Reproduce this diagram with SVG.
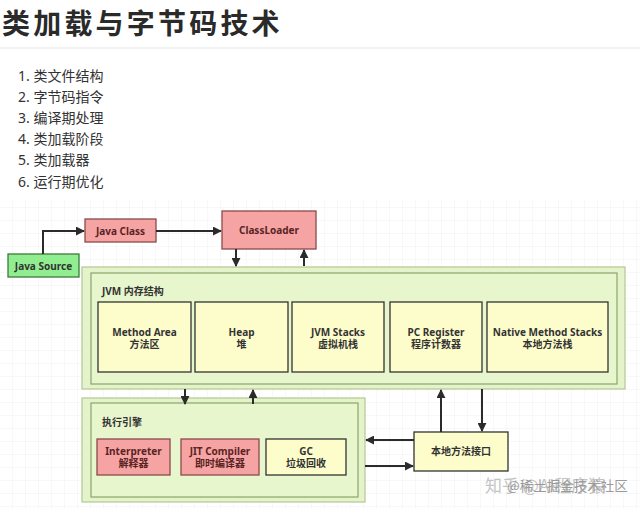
<svg xmlns="http://www.w3.org/2000/svg" width="640" height="509" viewBox="0 0 640 509">
<defs>
<pattern id="grid" width="13" height="13" patternUnits="userSpaceOnUse">
<path d="M13 0 V13 M0 13 H13" fill="none" stroke="#ececec" stroke-width="0.8"/>
</pattern>
<marker id="ah" viewBox="0 0 10 10" refX="9" refY="5" markerWidth="4.5" markerHeight="4.5" orient="auto" markerUnits="strokeWidth">
<path d="M0,0 L10,5 L0,10 Z" fill="#2b2b2b"/>
</marker>
<style>
.title{font-family:"Noto Sans CJK SC","Noto Sans",sans-serif;font-weight:bold;font-size:28px;letter-spacing:3.2px;fill:#2a2a2a}
.li{font-family:"Noto Sans","Noto Sans CJK SC",sans-serif;font-size:14px;fill:#333}
.t{font-family:"Noto Sans","Noto Sans CJK SC",sans-serif;font-weight:bold;font-size:10px;fill:#333;text-anchor:middle}
.tr{fill:#5a2323}
.lbl{font-family:"Noto Sans","Noto Sans CJK SC",sans-serif;font-weight:bold;font-size:10px;fill:#333}
.yel{fill:#fdfdcb;stroke:#333;stroke-width:1.3}
.red{fill:#f5a3a3;stroke:#8a4a4a;stroke-width:1.3}
.outer{fill:#e4f3c9;stroke:#b3c994;stroke-width:1.2}
.inner{fill:#e8f6ce;stroke:#8aa56a;stroke-width:1.2}
.c{fill:none;stroke:#2b2b2b;stroke-width:2;marker-end:url(#ah)}
.wm{font-family:"Noto Sans CJK SC","Noto Sans",sans-serif}
</style>
</defs>
<rect width="640" height="509" fill="#fff"/>
<rect x="0" y="200" width="640" height="309" fill="url(#grid)"/>
<text class="title" x="2" y="34">类加载与字节码技术</text>
<line x1="0" y1="48" x2="640" y2="48" stroke="#eeeeee" stroke-width="1.5"/>
<g id="list">
<text class="li" x="18" y="81">1. 类文件结构</text>
<text class="li" x="18" y="102">2. 字节码指令</text>
<text class="li" x="18" y="123">3. 编译期处理</text>
<text class="li" x="18" y="144">4. 类加载阶段</text>
<text class="li" x="18" y="165">5. 类加载器</text>
<text class="li" x="18" y="187">6. 运行期优化</text>
</g>
<g id="jvm">
<rect class="outer" x="82" y="267" width="543" height="122"/>
<rect class="inner" x="91" y="273" width="526" height="111"/>
<text class="lbl" x="102" y="295">JVM 内存结构</text>
</g>
<g id="exec">
<rect class="outer" x="82" y="398" width="283" height="104"/>
<rect class="inner" x="91" y="403" width="267" height="94"/>
<text class="lbl" x="102" y="426">执行引擎</text>
</g>
<g id="java-source">
<rect x="8" y="254" width="71" height="23" fill="#90ee90" stroke="#3c7a3c" stroke-width="1.3"/>
<text class="t" x="43.5" y="269.5">Java Source</text>
</g>
<g id="java-class">
<rect class="red" x="85" y="219" width="71" height="23"/>
<text class="t tr" x="120.5" y="234.5">Java Class</text>
</g>
<g id="classloader">
<rect class="red" x="222" y="211" width="94" height="38"/>
<text class="t tr" x="269" y="234">ClassLoader</text>
</g>
<g id="method-area">
<rect class="yel" x="98" y="302" width="93" height="70"/>
<text class="t" x="144.5" y="336">Method Area<tspan x="144.5" dy="11.5">方法区</tspan></text>
</g>
<g id="heap">
<rect class="yel" x="195" y="302" width="93" height="70"/>
<text class="t" x="241.5" y="336">Heap<tspan x="241.5" dy="11.5">堆</tspan></text>
</g>
<g id="jvm-stacks">
<rect class="yel" x="292" y="302" width="92" height="70"/>
<text class="t" x="338" y="336">JVM Stacks<tspan x="338" dy="11.5">虚拟机栈</tspan></text>
</g>
<g id="pc-register">
<rect class="yel" x="390" y="302" width="92" height="70"/>
<text class="t" x="436" y="336">PC Register<tspan x="436" dy="11.5">程序计数器</tspan></text>
</g>
<g id="native-stacks">
<rect class="yel" x="487" y="302" width="121" height="70"/>
<text class="t" x="547.5" y="336">Native Method Stacks<tspan x="547.5" dy="11.5">本地方法栈</tspan></text>
</g>
<g id="interpreter">
<rect class="red" x="97" y="439" width="73" height="36"/>
<text class="t tr" x="133.5" y="455">Interpreter<tspan x="133.5" dy="11.5">解释器</tspan></text>
</g>
<g id="jit">
<rect class="red" x="181" y="439" width="78" height="36"/>
<text class="t tr" x="220" y="455">JIT Compiler<tspan x="220" dy="11.5">即时编译器</tspan></text>
</g>
<g id="gc">
<rect class="yel" x="266" y="439" width="80" height="36"/>
<text class="t" x="306" y="455">GC<tspan x="306" dy="11.5">垃圾回收</tspan></text>
</g>
<g id="native-interface">
<rect class="yel" x="414" y="432" width="94" height="39"/>
<text class="t" x="461" y="455">本地方法接口</text>
</g>
<g id="connectors">
<path class="c" d="M43,254 V231 H84"/>
<path class="c" d="M156,231 H221"/>
<path class="c" d="M236,249 V266"/>
<path class="c" d="M304,266 V250"/>
<path class="c" d="M185,389 V404"/>
<path class="c" d="M253,404 V390"/>
<path class="c" d="M441,432 V390"/>
<path class="c" d="M482,389 V431"/>
<path class="c" d="M414,440 H366"/>
<path class="c" d="M365,466 H413"/>
</g>
<g id="watermark">
<text class="wm" x="485" y="492" font-size="17" fill="#c4c4c4">知乎 @AI程序猿<tspan x="507" y="491" font-size="13.5" fill="#9a9a9a">@稀土掘金技术社区</tspan></text>
</g>
</svg>
